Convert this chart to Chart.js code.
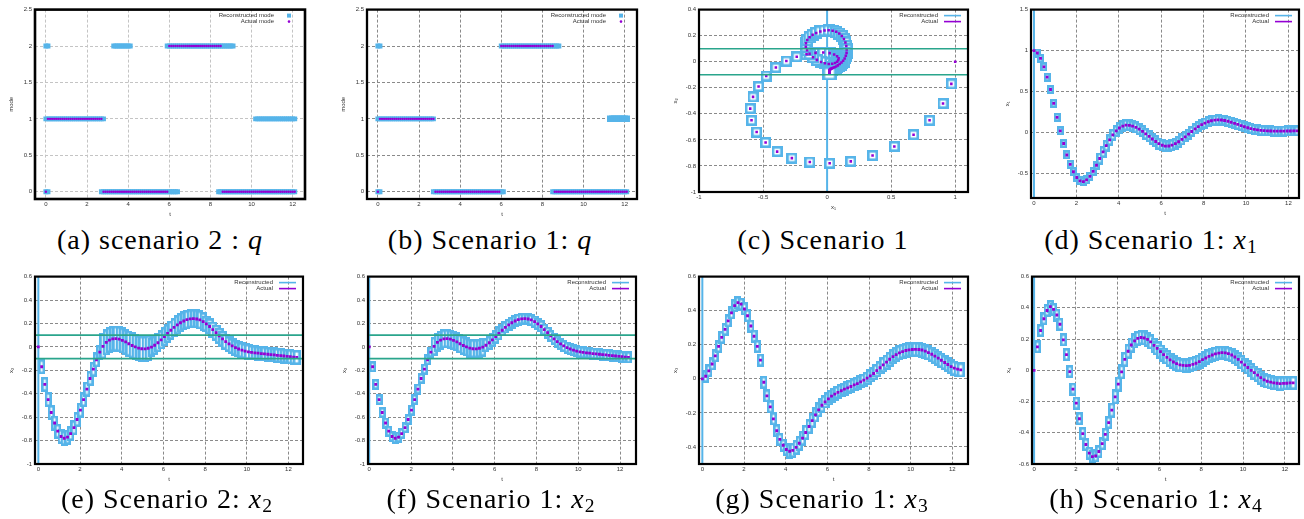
<!DOCTYPE html>
<html><head><meta charset="utf-8">
<script src="https://cdn.jsdelivr.net/npm/chart.js@4.4.1/dist/chart.umd.min.js"></script>
<style>
html,body{margin:0;padding:0;background:#fff;}
body{width:1304px;height:519px;position:relative;overflow:hidden;}
canvas.pl{position:absolute;}
.cap{position:absolute;font-family:'Liberation Serif','Times New Roman',serif;font-size:28px;letter-spacing:1px;color:#000;white-space:nowrap;transform:translateX(-50%);line-height:1;}
.cap i{font-style:italic;}
.cap sub{font-size:70%;vertical-align:-0.22em;line-height:0;}
</style></head><body>
<canvas id="ca" class="pl"></canvas><canvas id="cb" class="pl"></canvas><canvas id="cc" class="pl"></canvas><canvas id="cd" class="pl"></canvas>
<canvas id="ce" class="pl"></canvas><canvas id="cf" class="pl"></canvas><canvas id="cg" class="pl"></canvas><canvas id="ch" class="pl"></canvas>
<div class="cap" style="left:160px;top:226px">(a) scenario 2 : <i>q</i></div>
<div class="cap" style="left:490px;top:226px">(b) Scenario 1: <i>q</i></div>
<div class="cap" style="left:823px;top:226px">(c) Scenario 1</div>
<div class="cap" style="left:1151px;top:226px">(d) Scenario 1: <i>x</i><sub>1</sub></div>
<div class="cap" style="left:167px;top:485px">(e) Scenario 2: <i>x</i><sub>2</sub></div>
<div class="cap" style="left:491px;top:485px">(f) Scenario 1: <i>x</i><sub>2</sub></div>
<div class="cap" style="left:822px;top:485px">(g) Scenario 1: <i>x</i><sub>3</sub></div>
<div class="cap" style="left:1156px;top:485px">(h) Scenario 1: <i>x</i><sub>4</sub></div>
<script>
// ---------------- DATA ----------------
// mode plots: sampling instants
const tModes = [0,0.1,0.2,0.3,0.4,0.5,0.6,0.7,0.8,0.9,1,1.1,1.2,1.3,1.4,1.5,1.6,1.7,1.8,1.9,2,2.1,2.2,2.3,2.4,2.5,2.6,2.7,2.8,2.9,3,3.1,3.2,3.3,3.4,3.5,3.6,3.7,3.8,3.9,4,4.1,4.2,4.3,4.4,4.5,4.6,4.7,4.8,4.9,5,5.1,5.2,5.3,5.4,5.5,5.6,5.7,5.8,5.9,6,6.1,6.2,6.3,6.4,6.5,6.6,6.7,6.8,6.9,7,7.1,7.2,7.3,7.4,7.5,7.6,7.7,7.8,7.9,8,8.1,8.2,8.3,8.4,8.5,8.6,8.7,8.8,8.9,9,9.1,9.2,9.3,9.4,9.5,9.6,9.7,9.8,9.9,10,10.1,10.2,10.3,10.4,10.5,10.6,10.7,10.8,10.9,11,11.1,11.2,11.3,11.4,11.5,11.6,11.7,11.8,11.9,12,12.1];
const actualModeA = [0,
1,1,1,1,1,1,1,1,1,1,1,1,1,1,1,1,1,1,1,1,1,1,1,1,1,1,1,
0,0,0,0,0,0,0,0,0,0,0,0,0,0,0,0,0,0,0,0,0,0,0,0,0,0,0,0,0,0,0,0,
2,2,2,2,2,2,2,2,2,2,2,2,2,2,2,2,2,2,2,2,2,2,2,2,2,2,
0,0,0,0,0,0,0,0,0,0,0,0,0,0,0,0,0,0,0,0,0,0,0,0,0,0,0,0,0,0,0,0,0,0,0,0];
const actualModeB = [0,
1,1,1,1,1,1,1,1,1,1,1,1,1,1,1,1,1,1,1,1,1,1,1,1,1,1,1,
0,0,0,0,0,0,0,0,0,0,0,0,0,0,0,0,0,0,0,0,0,0,0,0,0,0,0,0,0,0,0,0,
2,2,2,2,2,2,2,2,2,2,2,2,2,2,2,2,2,2,2,2,2,2,2,2,2,2,
0,0,0,0,0,0,0,0,0,0,0,0,0,0,0,0,0,0,0,0,0,0,0,0,0,0,0,0,0,0,0,0,0,0,0,0];
// reconstructed mode sets (each string lists the modes kept at that instant)
const reconModeA = ["012","012",
"1","1","1","1","1","1","1","1","1","1","1","1","1","1","1","1","1","1","1","1","1","1","1","1","1",
"01","01","0","0","0","0",
"02","02","02","02","02","02","02","02","02",
"0","0","0","0","0","0","0","0","0","0","0","0","0","0","0","0","0",
"02","02","02","02","02","02",
"2","2","2","2","2","2","2","2","2","2","2","2","2","2","2","2","2","2","2",
"02","02","02","02","02","02","02","02",
"0","0","0","0","0","0","0","0","0","0",
"01","01","01","01","01","01","01","01","01","01","01","01","01","01","01","01","01","01","01","01"];
const reconModeB = ["012","012",
"1","1","1","1","1","1","1","1","1","1","1","1","1","1","1","1","1","1","1","1","1","1","1","1","1",
"01",
"0","0","0","0","0","0","0","0","0","0","0","0","0","0","0","0","0","0","0","0","0","0","0","0","0","0","0","0","0","0","0","0",
"02","02",
"2","2","2","2","2","2","2","2","2","2","2","2","2","2","2","2","2","2","2","2","2","2","2",
"02","02","02","02",
"0","0","0","0","0","0","0","0","0","0","0","0","0","0","0","0","0","0","0","0","0","0","0","0",
"01","01","01","01","01","01","01","01","01"];

// continuous-state plots: sampling instants
const tGrid = [0,0.16,0.31,0.47,0.62,0.78,0.93,1.09,1.24,1.4,
1.55,1.71,1.86,2.02,2.17,2.33,2.48,2.64,2.79,2.95,
3.1,3.26,3.41,3.57,3.72,3.88,4.03,4.19,4.34,4.5,
4.65,4.81,4.96,5.12,5.27,5.43,5.58,5.74,5.89,6.05,
6.2,6.36,6.51,6.67,6.82,6.98,7.13,7.29,7.44,7.6,
7.75,7.91,8.06,8.22,8.37,8.53,8.68,8.84,8.99,9.15,
9.3,9.46,9.61,9.77,9.92,10.08,10.23,10.39,10.54,10.7,
10.85,11.01,11.16,11.32,11.47,11.63,11.78,11.94,12.09,12.25,
12.4];
const x1Scen1 = [1.0,0.97,0.905,0.8,0.675,0.525,0.355,0.185,0.02,-0.135,
-0.275,-0.39,-0.48,-0.55,-0.59,-0.6,-0.578,-0.535,-0.475,-0.4,
-0.318,-0.237,-0.16,-0.09,-0.03,0.02,0.055,0.078,0.09,0.087,
0.078,0.062,0.04,0.013,-0.017,-0.048,-0.08,-0.11,-0.137,-0.156,
-0.166,-0.165,-0.155,-0.137,-0.113,-0.085,-0.053,-0.02,0.012,0.043,
0.071,0.095,0.115,0.131,0.143,0.15,0.153,0.152,0.146,0.137,
0.125,0.112,0.098,0.084,0.07,0.058,0.047,0.038,0.031,0.026,
0.022,0.019,0.018,0.017,0.017,0.017,0.017,0.018,0.018,0.019,
0.019];
const x2Scen1 = [0,-0.17,-0.32,-0.45,-0.56,-0.65,-0.72,-0.765,-0.78,-0.77,
-0.74,-0.69,-0.62,-0.54,-0.45,-0.36,-0.27,-0.19,-0.11,-0.045,
0.005,0.038,0.058,0.068,0.07,0.066,0.055,0.042,0.027,0.012,
0,-0.01,-0.016,-0.017,-0.012,-0.002,0.014,0.035,0.06,0.088,
0.115,0.142,0.166,0.188,0.206,0.221,0.232,0.239,0.241,0.238,
0.23,0.216,0.197,0.174,0.148,0.121,0.094,0.068,0.045,0.025,
0.008,-0.006,-0.018,-0.028,-0.036,-0.042,-0.047,-0.051,-0.054,-0.057,
-0.06,-0.063,-0.066,-0.069,-0.072,-0.075,-0.078,-0.081,-0.084,-0.087,
-0.09];
const x2Scen2 = [0,-0.17,-0.32,-0.45,-0.56,-0.65,-0.72,-0.765,-0.78,-0.77,
-0.74,-0.69,-0.62,-0.54,-0.45,-0.36,-0.27,-0.19,-0.11,-0.045,
0.005,0.038,0.058,0.068,0.07,0.066,0.055,0.042,0.027,0.012,
0,-0.01,-0.016,-0.017,-0.012,-0.002,0.014,0.035,0.06,0.088,
0.115,0.142,0.166,0.188,0.206,0.221,0.232,0.239,0.241,0.238,
0.23,0.216,0.197,0.174,0.148,0.121,0.094,0.068,0.045,0.025,
0.008,-0.006,-0.018,-0.028,-0.036,-0.042,-0.047,-0.051,-0.054,-0.057,
-0.06,-0.063,-0.066,-0.069,-0.072,-0.075,-0.078,-0.081,-0.084,-0.087,
-0.09];
const x3Scen1 = [0,0.015,0.047,0.087,0.135,0.19,0.243,0.29,0.34,0.387,
0.43,0.447,0.438,0.41,0.37,0.31,0.25,0.19,0.11,-0.02,
-0.1,-0.165,-0.235,-0.305,-0.355,-0.39,-0.415,-0.425,-0.42,-0.402,
-0.378,-0.348,-0.315,-0.28,-0.245,-0.212,-0.182,-0.155,-0.135,-0.118,
-0.102,-0.09,-0.08,-0.07,-0.061,-0.053,-0.045,-0.036,-0.028,-0.018,
-0.008,0.004,0.017,0.031,0.048,0.065,0.082,0.098,0.115,0.13,
0.142,0.152,0.16,0.166,0.17,0.172,0.173,0.172,0.169,0.163,
0.154,0.144,0.133,0.121,0.109,0.096,0.084,0.072,0.063,0.057,
0.052];
const x4Scen1 = [0,0.15,0.255,0.33,0.383,0.408,0.39,0.354,0.295,0.195,
0.1,-0.008,-0.12,-0.21,-0.31,-0.405,-0.475,-0.53,-0.553,-0.548,
-0.52,-0.47,-0.41,-0.335,-0.255,-0.17,-0.088,-0.01,0.07,0.122,
0.162,0.188,0.204,0.21,0.207,0.198,0.182,0.16,0.14,0.12,
0.1,0.083,0.067,0.053,0.043,0.035,0.031,0.03,0.032,0.038,
0.045,0.056,0.068,0.079,0.089,0.098,0.105,0.11,0.113,0.112,
0.107,0.098,0.085,0.07,0.052,0.035,0.018,0,-0.015,-0.031,
-0.047,-0.061,-0.07,-0.076,-0.08,-0.083,-0.085,-0.084,-0.083,-0.081,
-0.08];
// initial reconstructed interval (unbounded) and guard levels
const initialSpan = [-5, 5];
const guardLevels = [0.1, -0.1];
const guardSpan = [-5, 20];
// tick labels
const ticksT = [0,2,4,6,8,10,12];
const ticksMode = [0,0.5,1,1.5,2,2.5];
const ticksX1Phase = [-1,-0.5,0,0.5,1];
const ticksX2Phase = [-1,-0.8,-0.6,-0.4,-0.2,0,0.2,0.4];
const ticksX1 = [-0.5,0,0.5,1,1.5];
const ticksX2 = [-1,-0.8,-0.6,-0.4,-0.2,0,0.2,0.4,0.6];
const ticksX3 = [-0.4,-0.2,0,0.2,0.4,0.6];
const ticksX4 = [-0.6,-0.4,-0.2,0,0.2,0.4,0.6];

// ---------------- STYLE / BUILD ----------------
const BLUE = '#56B4E9', PURPLE = '#9400D3', GREEN = '#2aa58c';
Chart.defaults.font.family = '"Liberation Sans", Arial, sans-serif';
Chart.defaults.color = '#333';

const boxCache = {};
function boxImg(w, h) {
  const lw = 2.6, key = w + 'x' + h;
  if (boxCache[key]) return boxCache[key];
  const c = document.createElement('canvas');
  c.width = w; c.height = h;
  const g = c.getContext('2d');
  g.fillStyle = '#fff'; g.fillRect(0, 0, w, h);
  g.strokeStyle = BLUE; g.lineWidth = lw;
  g.strokeRect(lw / 2, lw / 2, w - lw, h - lw);
  boxCache[key] = c;
  return c;
}
const boxStyle = {
  c: i => i < 22 ? [11,11] : (i < 60 ? [12,12] : [14,14]),
  d: i => i < 20 ? [7,9] : (i < 46 ? [7,12] : [7,11]),
  e: i => i < 20 ? [7,15] : i < 35 ? [7,26] : i < 52 ? [7,19] : i < 66 ? [9,16] : [8,15],
  f: i => i < 20 ? [7,11] : i < 36 ? [7,19] : i < 41 ? [7,14] : i < 56 ? [8,12] : [7,12],
  g: i => i < 27 ? [7,13] : i < 38 ? [7,15] : i < 56 ? [9,13] : [8,15],
  h: i => i < 24 ? [7,13] : i < 38 ? [7,15] : i < 55 ? [9,14] : [8,14]
};

const framePlugin = {
  id: 'frame',
  afterDraw(chart, args, opts) {
    const {ctx, chartArea: a} = chart;
    ctx.save();
    ctx.strokeStyle = '#000'; ctx.lineWidth = opts.width || 2;
    ctx.strokeRect(a.left, a.top, a.right - a.left, a.bottom - a.top);
    ctx.restore();
  }
};
const keyPlugin = {
  id: 'gnukey',
  afterDraw(chart, args, opts) {
    if (!opts.items) return;
    const {ctx, chartArea: a} = chart;
    ctx.save();
    ctx.font = '6px "Liberation Sans", Arial, sans-serif';
    ctx.textAlign = 'right'; ctx.textBaseline = 'middle';
    opts.items.forEach((it, i) => {
      const y = a.top + 6 + i * 6;
      ctx.fillStyle = '#333';
      ctx.fillText(it.text, a.right - opts.textGap, y);
      if (it.kind === 'line') {
        ctx.strokeStyle = it.color; ctx.lineWidth = 1.6;
        ctx.beginPath(); ctx.moveTo(a.right - 24, y); ctx.lineTo(a.right - 7, y); ctx.stroke();
      } else if (it.kind === 'square') {
        ctx.fillStyle = it.color; ctx.fillRect(a.right - 18, y - 2, 4, 4);
      } else {
        ctx.fillStyle = it.color; ctx.beginPath(); ctx.arc(a.right - 16, y, 1.3, 0, Math.PI * 2); ctx.fill();
      }
    });
    ctx.restore();
  }
};

function place(id, L, T, R, B, padR) {
  const c = document.getElementById(id);
  const left = L - 35, top = T - 6;
  c.width = R + padR - left; c.height = B + 22 - top;
  c.style.left = left + 'px'; c.style.top = top + 'px';
  c.style.width = c.width + 'px'; c.style.height = c.height + 'px';
  return c;
}
function axis(min, max, ticks, title, isX, gridColor) {
  return {
    type: 'linear', min, max,
    afterBuildTicks: s => { s.ticks = ticks.map(v => ({value: v})); },
    afterFit: s => { if (isX) s.height = 22; else s.width = 35; },
    ticks: {autoSkip: false, maxRotation: 0, minRotation: 0, padding: isX ? 2 : 3,
            font: {size: 6}, color: '#333', callback: v => String(v)},
    grid: {color: gridColor, lineWidth: 1, drawTicks: false},
    border: {display: false, dash: [3, 2]},
    title: {display: true, text: title, font: {size: 6}, color: '#333',
            padding: isX ? {top: 0, bottom: 3.4} : {top: 7.4, bottom: 0}}
  };
}
function build(id, geom, xs, ys, datasets, key, frameW, gridColor) {
  const c = place(id, ...geom);
  return new Chart(c, {
    type: 'scatter',
    data: {datasets},
    options: {
      responsive: false, animation: false, events: [],
      devicePixelRatio: 1,
      layout: {padding: {left: 0, top: 6, right: geom[4], bottom: 0}},
      plugins: {legend: {display: false}, tooltip: {enabled: false},
                frame: {width: frameW}, gnukey: key},
      scales: {x: axis(...xs, true, gridColor), y: axis(...ys, false, gridColor)}
    },
    plugins: [framePlugin, keyPlugin]
  });
}
function pts(xs, ys) { return xs.map((x, i) => ({x, y: ys[i]})); }
function modePts(ts, sets) {
  const out = [];
  sets.forEach((s, i) => { for (const ch of s) out.push({x: ts[i], y: Number(ch), i}); });
  return out;
}
function actualDs(data, r) {
  return {data, showLine: false, pointStyle: 'rect', pointRadius: r || 2, pointBackgroundColor: PURPLE,
          pointBorderWidth: 0, order: 1};
}
function reconDs(data, styleFn) {
  return {data, showLine: false, pointRadius: 3,
          pointStyle: ctx => { const s = styleFn(ctx.dataIndex + 1); return boxImg(s[0], s[1]); },
          order: 3};
}
function initialDs(xAt) {
  return {data: [{x: xAt, y: initialSpan[0]}, {x: xAt, y: initialSpan[1]}], showLine: true,
          borderColor: BLUE, borderWidth: 2, pointRadius: 0, order: 4};
}
function guardDs() {
  return guardLevels.map(g => ({data: [{x: guardSpan[0], y: g}, {x: guardSpan[1], y: g}], showLine: true,
          borderColor: GREEN, borderWidth: 1.6, pointRadius: 0, order: 0}));
}
const keyModes = {textGap: 31, items: [{text: 'Reconstructed mode', kind: 'square', color: BLUE},
                                       {text: 'Actual mode', kind: 'dot', color: PURPLE}]};
const keyLines = {textGap: 30, items: [{text: 'Reconstructed', kind: 'line', color: BLUE},
                                       {text: 'Actual', kind: 'line', color: PURPLE}]};

function modeCharts(id, geom, recon, actual, bigFrom, frameW, gridColor) {
  const rData = modePts(tModes, recon);
  build(id, geom, [-0.53, 12.6, ticksT, 't'], [-0.1, 2.5, ticksMode, 'mode'], [
    {data: pts(tModes, actual), showLine: false, pointStyle: 'circle', pointRadius: 1.2,
     pointBackgroundColor: PURPLE, pointBorderWidth: 0, order: 1},
    {data: rData, showLine: false, pointStyle: 'rect',
     pointRadius: ctx => { const p = rData[ctx.dataIndex]; return (p && p.y === 1 && p.i >= bigFrom) ? 4.6 : 3.5; },
     pointBackgroundColor: BLUE, pointBorderWidth: 0, order: 2}
  ], keyModes, frameW, gridColor);
}
modeCharts('ca', [35, 9, 305, 199, 6], reconModeA, actualModeA, 999, 2.6, '#c4c4c4');
modeCharts('cb', [367, 9, 637, 199, 6], reconModeB, actualModeB, 113, 2.3, '#8a8a8a');

// (c) phase portrait x1 vs x2
build('cc', [699, 9, 968, 192, 6], [-1, 1.1, ticksX1Phase, 'x\u2081'], [-1, 0.4, ticksX2Phase, 'x\u2082'], [
  ...guardDs(),
  actualDs(pts(x1Scen1, x2Scen1), 1.8),
  reconDs(pts(x1Scen1.slice(1), x2Scen1.slice(1)), boxStyle.c),
  initialDs(0)
], keyLines, 2.2, '#8a8a8a');

// (d) x1
build('cd', [1031, 9, 1299, 198, 5], [-0.14, 12.5, ticksT, 't'], [-0.8, 1.5, ticksX1, 'x\u2081'], [
  actualDs(pts(tGrid, x1Scen1)),
  reconDs(pts(tGrid.slice(1), x1Scen1.slice(1)), boxStyle.d),
  initialDs(0)
], keyLines, 2.2, '#8a8a8a');

// (e) scenario 2 x2
build('ce', [35, 276, 303, 464, 6], [-0.16, 12.7, ticksT, 't'], [-1, 0.6, ticksX2, 'x\u2082'], [
  ...guardDs(),
  actualDs(pts(tGrid, x2Scen2)),
  reconDs(pts(tGrid.slice(1), x2Scen2.slice(1)), boxStyle.e),
  initialDs(0)
], keyLines, 2.2, '#8a8a8a');

// (f) scenario 1 x2
build('cf', [368, 276, 636, 464, 6], [-0.06, 12.76, ticksT, 't'], [-1, 0.6, ticksX2, 'x\u2082'], [
  ...guardDs(),
  actualDs(pts(tGrid, x2Scen1)),
  reconDs(pts(tGrid.slice(1), x2Scen1.slice(1)), boxStyle.f),
  initialDs(0)
], keyLines, 2.2, '#8a8a8a');

// (g) x3
build('cg', [699, 276, 968, 464, 6], [-0.16, 12.75, ticksT, 't'], [-0.5, 0.6, ticksX3, 'x\u2083'], [
  actualDs(pts(tGrid, x3Scen1)),
  reconDs(pts(tGrid.slice(1), x3Scen1.slice(1)), boxStyle.g),
  initialDs(0)
], keyLines, 2.2, '#8a8a8a');

// (h) x4
build('ch', [1032, 276, 1299, 464, 5], [-0.1, 12.68, ticksT, 't'], [-0.6, 0.6, ticksX4, 'x\u2084'], [
  actualDs(pts(tGrid, x4Scen1)),
  reconDs(pts(tGrid.slice(1), x4Scen1.slice(1)), boxStyle.h),
  initialDs(0)
], keyLines, 2.2, '#8a8a8a');
</script>
</body></html>
